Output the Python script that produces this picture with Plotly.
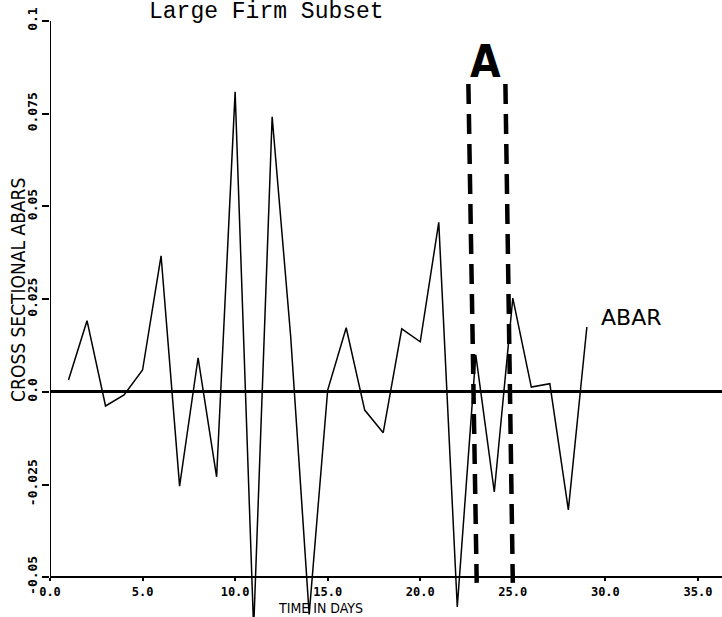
import plotly.graph_objects as go

# ---- data ----
days = list(range(1, 30))
abar = [0.0032, 0.0192, -0.0038, -0.0008, 0.0059, 0.0367, -0.0254, 0.0092,
        -0.0229, 0.0809, -0.064, 0.0742, 0.015, -0.060, 0.0005, 0.0173,
        -0.0049, -0.011, 0.0170, 0.0135, 0.0457, -0.058, 0.0100, -0.027,
        0.0253, 0.0013, 0.0022, -0.0318, 0.0175]

x_ticks = [0, 5, 10, 15, 20, 25, 30, 35]
x_tick_text = ["0.0", "5.0", "10.0", "15.0", "20.0", "25.0", "30.0", "35.0"]
y_ticks = [-0.05, -0.025, 0.0, 0.025, 0.05, 0.075, 0.1]
y_tick_text = ["-0.05", "-0.025", "0.0", "0.025", "0.05", "0.075", "0.1"]

# window "A" (hand-drawn dashed bracket)
window_left_x = [22.6, 23.05]
window_right_x = [24.6, 25.0]
window_y = [0.083, -0.0515]

Y_AXIS_MIN, Y_AXIS_MAX = -0.05, 0.1
Y_VIEW_MIN = -0.0607
X_RANGE = [0, 36.3]

fig = go.Figure()
fig.add_trace(go.Scatter(x=days, y=abar, mode="lines",
                         line=dict(color="black", width=1.5),
                         showlegend=False, hoverinfo="skip"))
for wx in (window_left_x, window_right_x):
    fig.add_trace(go.Scatter(x=wx, y=window_y, mode="lines",
                             line=dict(color="black", width=4.5, dash="20px,10px"),
                             showlegend=False, hoverinfo="skip"))

# y axis line (only spans the labelled range)
fig.add_shape(type="line", xref="x", yref="y", x0=0, x1=0,
              y0=Y_AXIS_MIN, y1=Y_AXIS_MAX, line=dict(color="black", width=2))

xpos = (Y_AXIS_MIN - Y_VIEW_MIN) / (Y_AXIS_MAX - Y_VIEW_MIN)

ytickfont = dict(family="DejaVu Sans Mono", size=13, color="black", weight="bold")
xtickfont = dict(family="DejaVu Sans Mono", size=12, color="black", weight="bold")
plotter = "Liberation Sans Narrow, DejaVu Sans Condensed, DejaVu Sans"

fig.update_layout(
    width=722, height=617,
    margin=dict(l=50, r=0, t=21, b=0),
    plot_bgcolor="white", paper_bgcolor="white",
    xaxis=dict(range=X_RANGE, tickvals=x_ticks, ticktext=x_tick_text,
               showline=True, linecolor="black", linewidth=2,
               ticks="outside", ticklen=3, tickwidth=2, tickcolor="black",
               anchor="free", position=xpos,
               showgrid=False, zeroline=False, tickfont=xtickfont),
    yaxis=dict(range=[Y_VIEW_MIN, Y_AXIS_MAX], tickvals=y_ticks, ticktext=y_tick_text,
               tickangle=-90, showline=False,
               ticks="outside", ticklen=7, tickwidth=2, tickcolor="black",
               showgrid=False, zeroline=True, zerolinecolor="black", zerolinewidth=2.5,
               tickfont=ytickfont),
    annotations=[
        dict(text="Large Firm Subset", xref="paper", yref="paper", x=0.322, y=1.0,
             yshift=9, showarrow=False, xanchor="center", yanchor="middle",
             font=dict(family="Liberation Mono", size=23, color="black")),
        dict(text="CROSS SECTIONAL ABARS", xref="paper", yref="y", x=0, y=0.0275,
             xshift=-32, textangle=-90, showarrow=False,
             xanchor="center", yanchor="middle",
             font=dict(family=plotter, size=19, color="black")),
        dict(text="TIME IN DAYS", xref="x", yref="paper", x=14.6, y=0,
             yshift=9, showarrow=False, xanchor="center", yanchor="middle",
             font=dict(family=plotter, size=14, color="black")),
        dict(text="<b>A</b>", xref="x", yref="y", x=23.5, y=0.089, showarrow=False,
             font=dict(family="DejaVu Sans Condensed, DejaVu Sans", size=44, color="black")),
        dict(text="ABAR", xref="x", yref="y", x=31.4, y=0.020, showarrow=False,
             font=dict(family="DejaVu Sans", size=22, color="black")),
    ],
)

fig.write_html("out.html")
